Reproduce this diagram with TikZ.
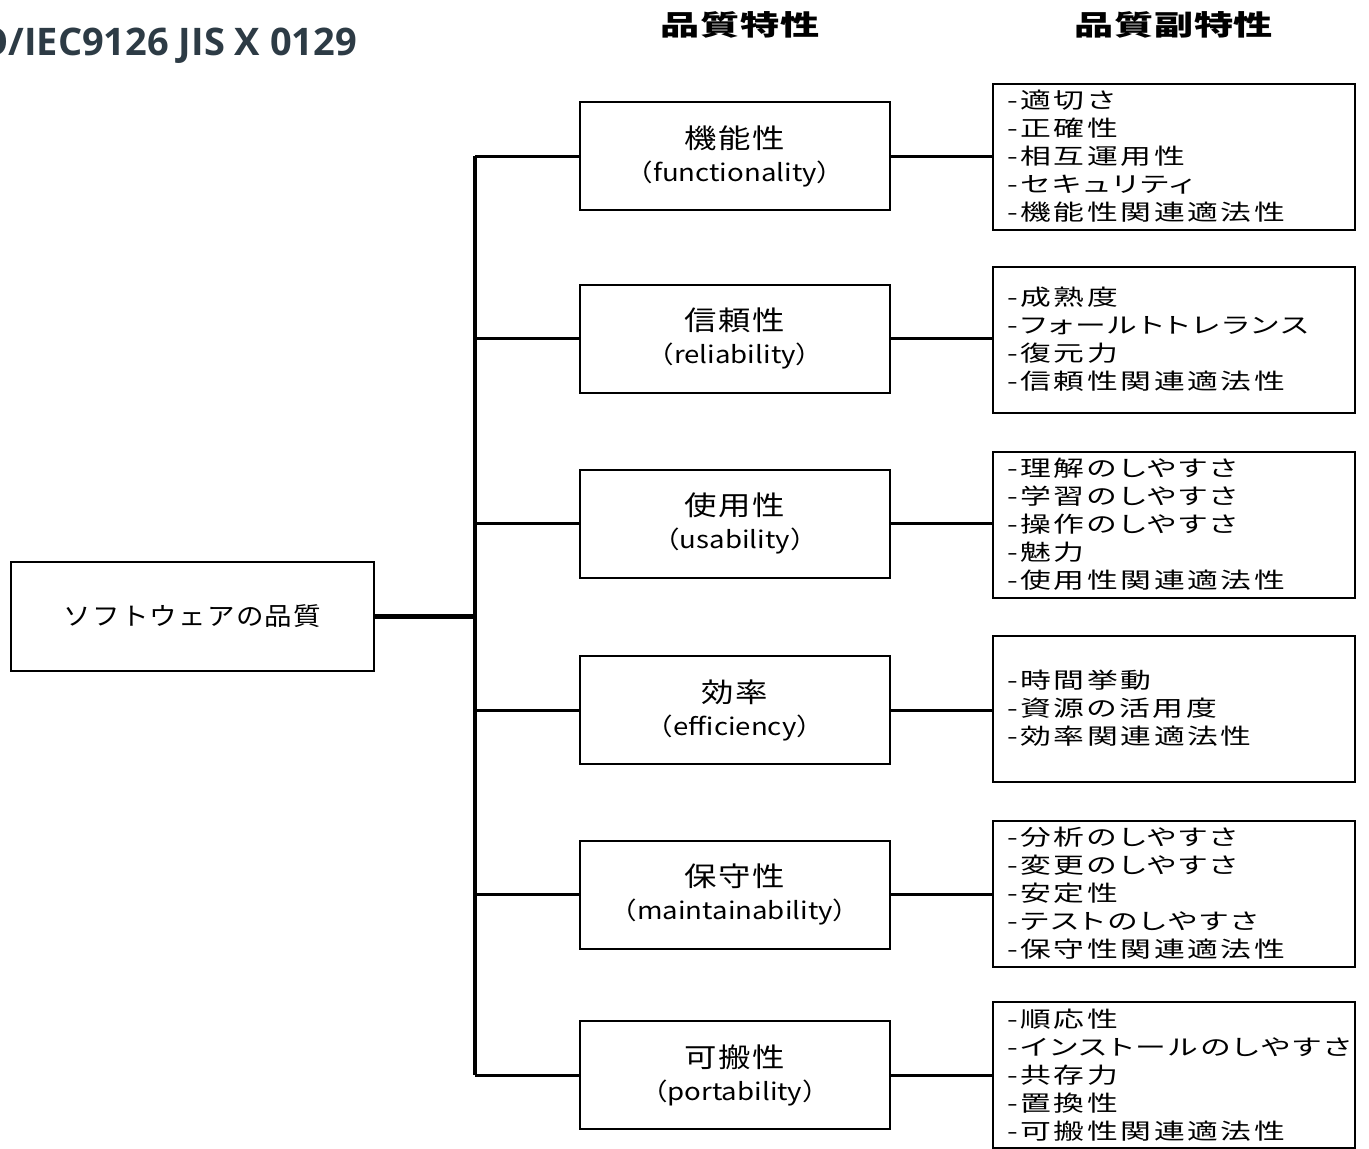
\documentclass[tikz,border=0pt]{standalone}
\usepackage{fontspec}
\newfontfamily\jpM[FakeStretch=1.2,LetterSpace=6]{Noto Sans CJK JP}
\newfontfamily\jpE[FakeStretch=1.15]{Noto Sans CJK JP}
\newfontfamily\jpR[FakeStretch=1.4,LetterSpace=12,RawFeature=+palt]{Noto Sans CJK JP}
\newfontfamily\jpT[FakeStretch=1.1,LetterSpace=5]{Noto Sans CJK JP}
\newfontfamily\jpH[FakeStretch=1.4,LetterSpace=2]{Noto Sans CJK JP}
\newfontfamily\titlefont{Open Sans}
\definecolor{titlecol}{HTML}{2D3B45}
\newcommand{\mt}[2]{{\jpM\fontsize{27}{33}\selectfont #1}\\{\jpE\fontsize{24}{33}\selectfont #2}}
\tikzset{
  box/.style={draw, line width=2pt, rectangle, inner sep=0pt},
  rootbox/.style={box, minimum width=363pt, minimum height=109pt, font=\jpT\fontsize{25}{28}\selectfont},
  midbox/.style={box, minimum width=310pt, minimum height=108pt, align=center, font=\fontsize{24}{33}\selectfont},
  subbox/.style={box, minimum width=362pt, minimum height=146pt, text width=334pt, align=left, font=\jpR\fontsize{22}{28}\selectfont},
  trunkline/.style={line width=4pt},
  branch/.style={line width=3pt},
  header/.style={inner sep=0pt, font=\jpH\bfseries\fontsize{28}{30}\selectfont},
}
\begin{document}
\begin{tikzpicture}[x=1pt,y=-1pt]
\useasboundingbox (0,0) rectangle (1369,1149);
\fill[white] (0,0) rectangle (1369,1149);

\node[anchor=base east, inner sep=0pt, text=titlecol, font=\titlefont\bfseries\fontsize{38}{40}\selectfont] (title) at (357,55) {ISO/IEC9126 JIS X 0129};
\node[header] (h1) at (740,25) {品質特性};
\node[header] (h2) at (1174,25) {品質副特性};

\node[rootbox] (root) at (192.5,616.5) {ソフトウェアの品質};

\node[midbox] (m1) at (735,156) {\mt{機能性}{（functionality）}};
\node[midbox] (m2) at (735,338.5) {\mt{信頼性}{（reliability）}};
\node[midbox] (m3) at (735,523.5) {\mt{使用性}{（usability）}};
\node[midbox] (m4) at (735,710) {\mt{効率}{（efficiency）}};
\node[midbox] (m5) at (735,894.5) {\mt{保守性}{（maintainability）}};
\node[midbox] (m6) at (735,1075) {\mt{可搬性}{（portability）}};

\node[subbox] (r1) at (1174,156.5) {-適切さ\\-正確性\\-相互運用性\\-セキュリティ\\-機能性関連適法性};
\node[subbox] (r2) at (1174,339.5) {-成熟度\\-フォールトトレランス\\-復元力\\-信頼性関連適法性};
\node[subbox] (r3) at (1174,524.5) {-理解のしやすさ\\-学習のしやすさ\\-操作のしやすさ\\-魅力\\-使用性関連適法性};
\node[subbox] (r4) at (1174,708.5) {-時間挙動\\-資源の活用度\\-効率関連適法性};
\node[subbox] (r5) at (1174,893.5) {-分析のしやすさ\\-変更のしやすさ\\-安定性\\-テストのしやすさ\\-保守性関連適法性};
\node[subbox] (r6) at (1174,1075) {-順応性\\-インストールのしやすさ\\-共存力\\-置換性\\-可搬性関連適法性};

\coordinate (tx) at (475,0);
\draw[trunkline] (m1.west -| tx) -- (m6.west -| tx);
\draw[line width=5pt] (root.east) -- (root.east -| tx);
\foreach \i in {1,...,6}{
  \draw[branch] (m\i.west) -- (m\i.west -| tx);
  \draw[branch] (m\i.east) -- (m\i.east -| r\i.west);
}
\end{tikzpicture}
\end{document}
